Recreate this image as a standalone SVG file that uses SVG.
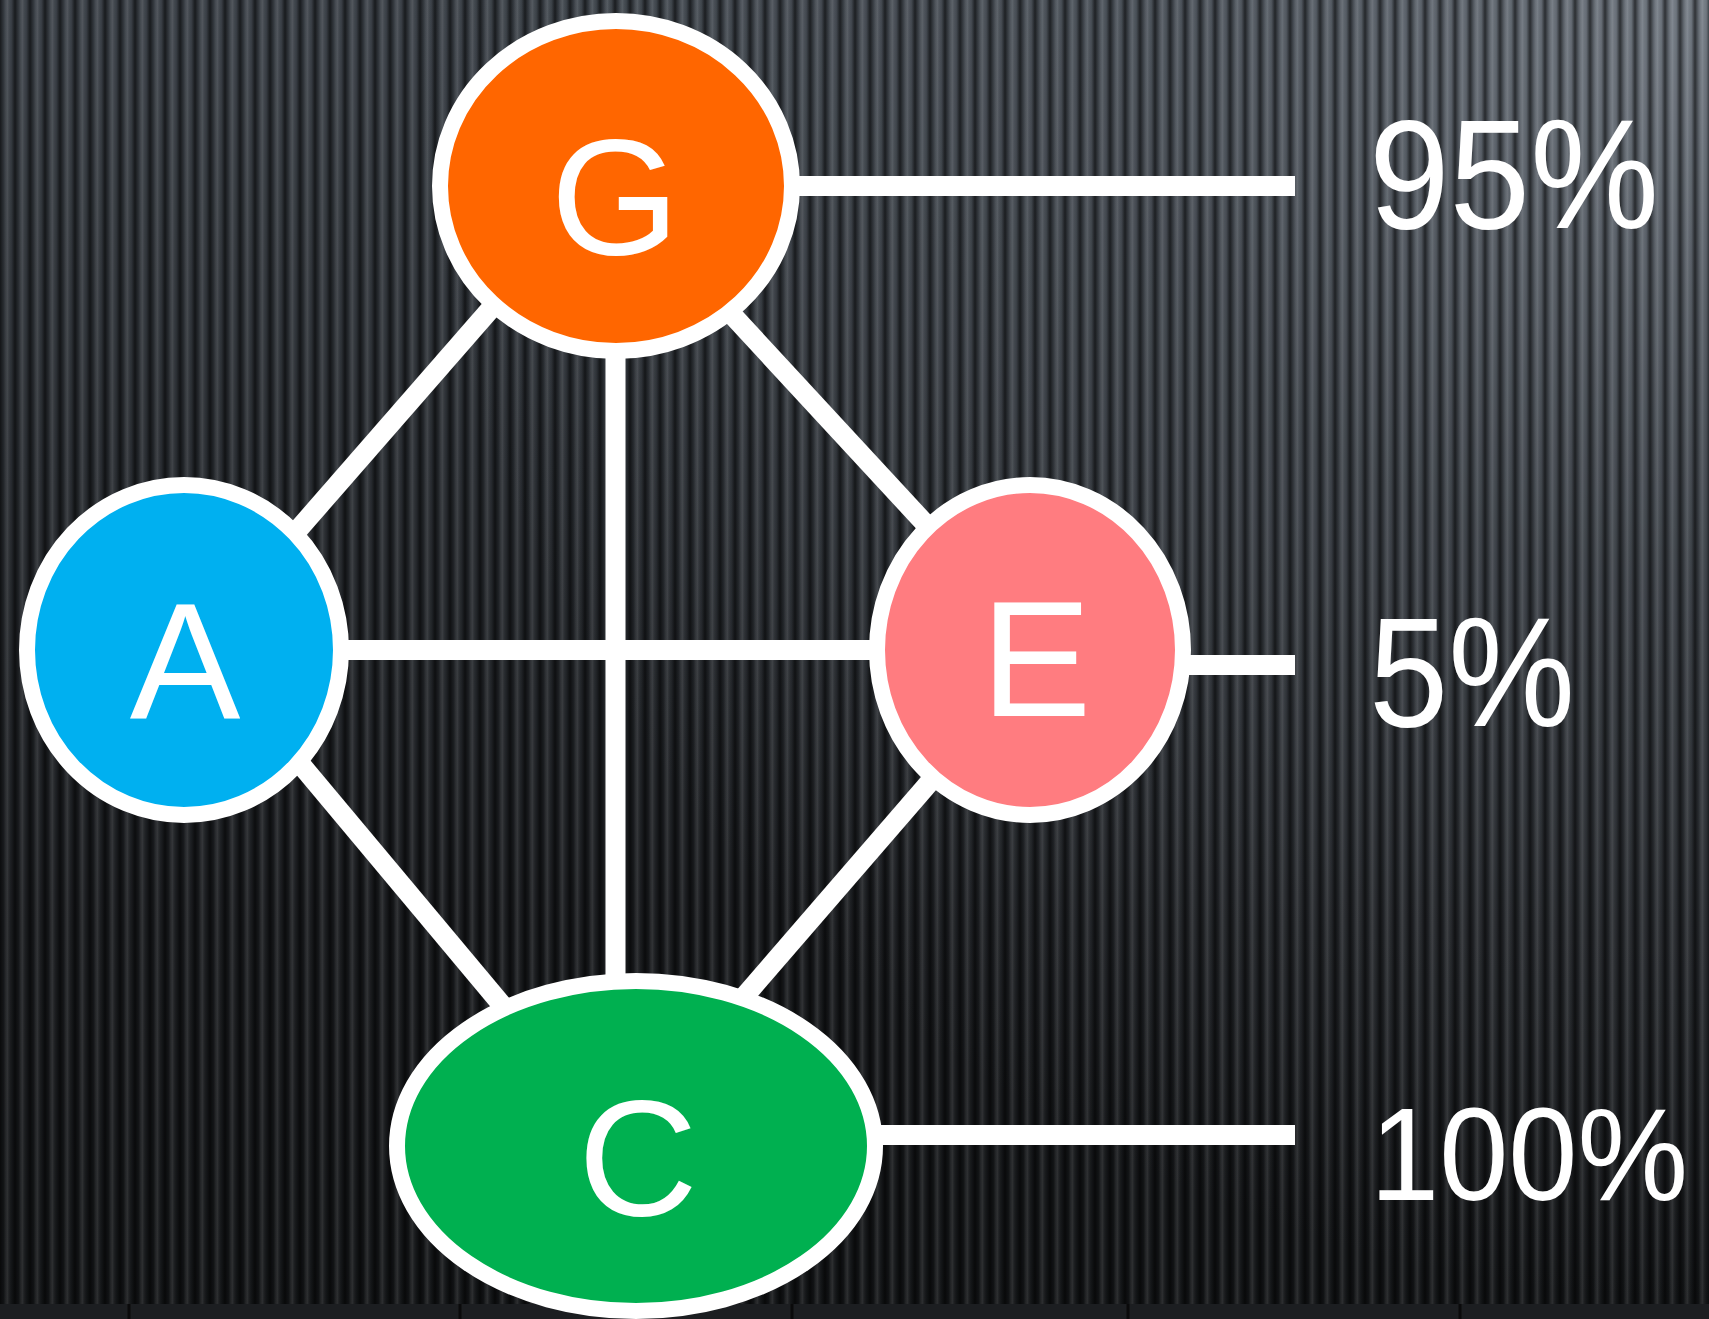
<svg xmlns="http://www.w3.org/2000/svg" width="1709" height="1319" viewBox="0 0 1709 1319">
  <defs>
    <linearGradient id="bgv" x1="0" y1="0" x2="0" y2="1">
      <stop offset="0" stop-color="#3e444b"/>
      <stop offset="0.35" stop-color="#2a2e33"/>
      <stop offset="0.7" stop-color="#1a1c1f"/>
      <stop offset="1" stop-color="#141618"/>
    </linearGradient>
    <radialGradient id="glow" cx="1709" cy="0" r="1300" gradientUnits="userSpaceOnUse">
      <stop offset="0" stop-color="#8a929c" stop-opacity="0.75"/>
      <stop offset="0.45" stop-color="#6a727c" stop-opacity="0.35"/>
      <stop offset="1" stop-color="#6a727c" stop-opacity="0"/>
    </radialGradient>
    <linearGradient id="stripe" x1="0" y1="0" x2="1" y2="0">
      <stop offset="0" stop-color="#000" stop-opacity="0.6"/>
      <stop offset="0.25" stop-color="#000" stop-opacity="0.15"/>
      <stop offset="0.5" stop-color="#fff" stop-opacity="0.10"/>
      <stop offset="0.75" stop-color="#000" stop-opacity="0.05"/>
      <stop offset="1" stop-color="#000" stop-opacity="0.6"/>
    </linearGradient>
    <pattern id="stripes" x="0" y="0" width="15" height="20" patternUnits="userSpaceOnUse">
      <rect width="15" height="20" fill="url(#stripe)"/>
    </pattern>
    <style>
      .node { stroke: #ffffff; stroke-width: 16; }
      .lbl { font-family: "Liberation Sans", Arial, sans-serif; fill: #ffffff; text-anchor: middle; font-size: 166px; }
      .pct { font-family: "Liberation Sans", Arial, sans-serif; fill: #ffffff; }
      .edge { stroke: #ffffff; stroke-width: 20; fill: none; }
    </style>
  </defs>

  <g id="background">
    <rect width="1709" height="1319" fill="url(#bgv)"/>
    <rect width="1709" height="1319" fill="url(#glow)"/>
    <rect width="1709" height="1319" fill="url(#stripes)"/>
    <rect x="0" y="1304" width="1709" height="15" fill="#1c1e21"/>
    <g stroke="#0a0a0b" stroke-width="3">
      <line x1="129" y1="1304" x2="129" y2="1319"/>
      <line x1="460" y1="1304" x2="460" y2="1319"/>
      <line x1="792" y1="1304" x2="792" y2="1319"/>
      <line x1="1128" y1="1304" x2="1128" y2="1319"/>
      <line x1="1460" y1="1304" x2="1460" y2="1319"/>
    </g>
  </g>

  <g id="connectors">
    <line class="edge" x1="598" y1="186" x2="193" y2="650"/>
    <line class="edge" x1="613" y1="186" x2="1042" y2="650"/>
    <line class="edge" x1="205" y1="650" x2="620" y2="1146"/>
    <line class="edge" x1="1044" y1="650" x2="615" y2="1146"/>
    <line class="edge" x1="615.5" y1="186" x2="615.5" y2="1146"/>
    <line class="edge" x1="184" y1="650" x2="1030" y2="650"/>
    <line class="edge" x1="616" y1="186" x2="1295" y2="186"/>
    <line class="edge" x1="1030" y1="665" x2="1295" y2="665"/>
    <line class="edge" x1="636" y1="1135" x2="1295" y2="1135"/>
  </g>

  <g id="node-G">
    <ellipse class="node" cx="616" cy="186" rx="176" ry="165" fill="#FF6600"/>
    <text class="lbl" x="615" y="254">G</text>
  </g>
  <g id="node-A">
    <ellipse class="node" cx="184" cy="650" rx="157" ry="165" fill="#00B0F0"/>
    <text class="lbl" x="185" y="718">A</text>
  </g>
  <g id="node-E">
    <ellipse class="node" cx="1030" cy="650" rx="153" ry="165" fill="#FF7C80"/>
    <text class="lbl" x="1036" y="716">E</text>
  </g>
  <g id="node-C">
    <ellipse class="node" cx="636" cy="1146" rx="239" ry="165" fill="#00B050"/>
    <text class="lbl" x="638" y="1215">C</text>
  </g>

  <g id="labels">
    <text class="pct" x="1369" y="228" font-size="155" textLength="290" lengthAdjust="spacingAndGlyphs">95%</text>
    <text class="pct" x="1369" y="726" font-size="155" textLength="206" lengthAdjust="spacingAndGlyphs">5%</text>
    <text class="pct" x="1370" y="1200" font-size="132" textLength="318" lengthAdjust="spacingAndGlyphs">100%</text>
  </g>
</svg>
